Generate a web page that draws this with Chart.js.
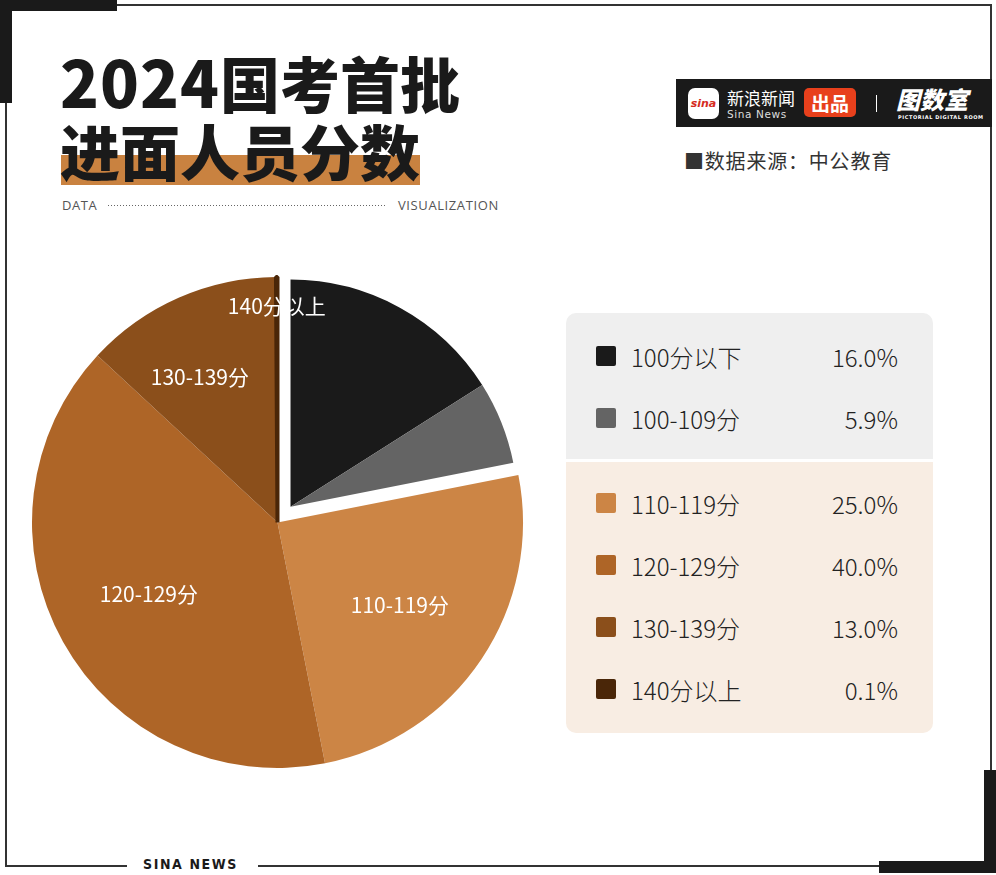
<!DOCTYPE html>
<html>
<head>
<meta charset="utf-8">
<script src="https://cdn.jsdelivr.net/npm/chart.js@4.4.1/dist/chart.umd.min.js"></script>
<style>
  html, body { margin: 0; padding: 0; background: #fff; }
  body { width: 996px; height: 875px; position: relative; overflow: hidden;
         font-family: "Noto Sans CJK SC", "Noto Sans", sans-serif; color: #222; }
  .abs { position: absolute; }
  .bar { position: absolute; background: #1a1a1a; }
  .thin { position: absolute; background: #333; }
  #title { left: 60px; top: 46px; font-weight: 900; font-size: 60px; line-height: 68px; color: #1a1a1a; }
  #title .num { font-size: 64px; letter-spacing: 1px; }
  #hl { left: 61px; top: 155px; width: 359px; height: 30px; background: #c98240; }
  .sub { top: 196px; font-size: 13px; color: #555; letter-spacing: 0.6px; font-family: "Open Sans", sans-serif; }
  #dots { left: 108px; top: 205px; width: 278px; height: 1px;
          background: repeating-linear-gradient(to right, #666 0 1px, transparent 1px 3px); }
  #brand { left: 676px; top: 79px; width: 316px; height: 48px; background: #1a1a1a; }
  #source { left: 684px; top: 146px; font-size: 20px; letter-spacing: 0.8px; color: #333; line-height: 30px; }
  #legend { left: 566px; top: 313px; width: 367px; }
  .grp { padding: 0 35px 0 30px; }
  .row { height: 62px; display: flex; align-items: center; font-size: 24px; font-weight: 300; color: #222; }
  .mk { width: 20px; height: 20px; border-radius: 2px; margin-right: 15px; }
  .row .nm { flex: 1; }
  #chartBox { position: absolute; left: 12px; top: 257px; width: 531px; height: 531px; }
</style>
</head>
<body>
<!-- frame -->
<div class="thin" style="left:117px;top:4px;width:875px;height:2px"></div>
<div class="thin" style="left:990px;top:4px;width:2px;height:818px"></div>
<div class="thin" style="left:5px;top:50px;width:2px;height:817px"></div>
<div class="thin" style="left:5px;top:865px;width:122px;height:2px"></div>
<div class="thin" style="left:258px;top:865px;width:622px;height:2px"></div>
<div class="bar" style="left:0;top:0;width:117px;height:11px"></div>
<div class="bar" style="left:0;top:0;width:12px;height:103px"></div>
<div class="bar" style="left:984px;top:770px;width:12px;height:103px"></div>
<div class="bar" style="left:879px;top:861px;width:117px;height:12px"></div>
<div class="abs" style="left:143px;top:856px;font-size:14px;font-weight:bold;letter-spacing:1.6px;color:#1a1a1a;font-family:'DejaVu Sans Condensed','Liberation Sans Narrow',sans-serif">SINA NEWS</div>

<!-- title -->
<div id="hl" class="abs"></div>
<div id="title" class="abs"><span class="num">2024</span>国考首批<br>进面人员分数</div>
<div class="abs sub" style="left:62px">DATA</div>
<div id="dots" class="abs"></div>
<div class="abs sub" style="left:398px">VISUALIZATION</div>

<!-- brand bar -->
<div id="brand" class="abs">
  <div class="abs" style="left:12px;top:9px;width:31px;height:31px;background:#fff;border-radius:7px;text-align:center;line-height:31px;font-size:11px;font-style:italic;font-weight:bold;color:#d52b1e;font-family:'DejaVu Sans',sans-serif">sina</div>
  <div class="abs" style="left:51px;top:8px;font-size:17px;color:#fff;line-height:22px">新浪新闻</div>
  <div class="abs" style="left:51px;top:28px;font-size:10.5px;color:#ddd;letter-spacing:0.6px;line-height:14px;font-family:'DejaVu Sans',sans-serif">Sina News</div>
  <div class="abs" style="left:128px;top:9px;width:52px;height:29px;background:#e8401c;border-radius:5px;color:#fff;font-weight:bold;font-size:19px;line-height:29px;text-align:center">出品</div>
  <div class="abs" style="left:200px;top:16px;width:1px;height:17px;background:#fff"></div>
  <div class="abs" style="left:220px;top:4px;font-size:24px;font-weight:900;font-style:italic;color:#fff;line-height:32px">图数室</div>
  <div class="abs" style="left:222px;top:35px;font-size:5px;font-weight:bold;color:#fff;letter-spacing:0.6px;font-family:'DejaVu Sans',sans-serif">PICTORIAL DIGITAL ROOM</div>
</div>
<div id="source" class="abs">■数据来源：中公教育</div>

<div id="chartBox"><canvas id="chart"></canvas></div>
<div id="legend" class="abs"></div>

<script>
const categories = ["100分以下", "100-109分", "110-119分", "120-129分", "130-139分", "140分以上"];
const shares = [16.0, 5.9, 25.0, 40.0, 13.0, 0.1];
const colors = ["#1a1a1a", "#646464", "#cc8545", "#ae6527", "#8b4f1b", "#4a2608"];
const topGroup = [0, 1];
const bottomGroup = [2, 3, 4, 5];

// legend panel built from the same arrays
const legend = document.getElementById("legend");
const makeGroup = (idx, bg, pad, radius) => {
    const g = document.createElement("div");
    g.className = "grp";
    g.style.background = bg;
    g.style.paddingTop = pad[0] + "px";
    g.style.paddingBottom = pad[1] + "px";
    g.style.borderRadius = radius;
    idx.forEach((i) => {
        const r = document.createElement("div");
        r.className = "row";
        r.innerHTML = `<div class="mk" style="background:${colors[i]}"></div><div class="nm">${categories[i]}</div><div>${shares[i].toFixed(1)}%</div>`;
        g.appendChild(r);
    });
    legend.appendChild(g);
};
makeGroup(topGroup, "#efefef", [12, 10], "10px 10px 0 0");
const sep = document.createElement("div");
sep.style.height = "3px";
legend.appendChild(sep);
makeGroup(bottomGroup, "#f8ede3", [10, 13], "0 0 10px 10px");

// pull the first group of slices out together, a bit smaller than the rest
const explodePlugin = {
    id: "explodeGroup",
    beforeDatasetsDraw(chart, args, opts) {
        const meta = chart.getDatasetMeta(0);
        const group = opts.indices.map((i) => meta.data[i]);
        const mid = (group[0].startAngle + group[group.length - 1].endAngle) / 2;
        const dx = Math.cos(mid) * opts.distance;
        const dy = Math.sin(mid) * opts.distance;
        group.forEach((el) => {
            if (!el._baseDraw) el._baseDraw = el.draw;
            el.draw = function (ctx, area) {
                const r = this.outerRadius;
                this.outerRadius = r * opts.radiusScale;
                ctx.save();
                ctx.translate(dx, dy);
                this._baseDraw(ctx, area);
                ctx.restore();
                this.outerRadius = r;
            };
        });
    },
};

const sliceLabelPlugin = {
    id: "sliceLabels",
    afterDatasetsDraw(chart, args, opts) {
        const ctx = chart.ctx;
        const meta = chart.getDatasetMeta(0);
        ctx.save();
        ctx.font = opts.font;
        ctx.fillStyle = opts.color;
        ctx.textAlign = "center";
        ctx.textBaseline = "middle";
        opts.items.forEach(([i, frac, shiftDeg]) => {
            const el = meta.data[i];
            const a = (el.startAngle + el.endAngle) / 2 + (shiftDeg * Math.PI) / 180;
            const r = el.outerRadius * frac;
            ctx.fillText(chart.data.labels[i], el.x + Math.cos(a) * r, el.y + Math.sin(a) * r);
        });
        ctx.restore();
    },
};

new Chart(document.getElementById("chart"), {
    type: "pie",
    data: {
        labels: categories,
        datasets: [
            {
                data: shares,
                backgroundColor: colors,
                borderColor: colors,
                borderWidth: [0, 0, 0, 0, 0, 4],
            },
        ],
    },
    options: {
        responsive: true,
        maintainAspectRatio: false,
        animation: false,
        layout: { padding: 18 },
        plugins: {
            legend: { display: false },
            tooltip: { enabled: false },
            explodeGroup: { indices: topGroup, distance: 20.5, radiusScale: 0.925 },
            sliceLabels: {
                font: '21px "Noto Sans CJK SC"',
                color: "#ffffff",
                items: [[2, 0.6, 0], [3, 0.6, 0], [4, 0.67, -4.4], [5, 0.88, 0]],
            },
        },
    },
    plugins: [explodePlugin, sliceLabelPlugin],
});
</script>
</body>
</html>
